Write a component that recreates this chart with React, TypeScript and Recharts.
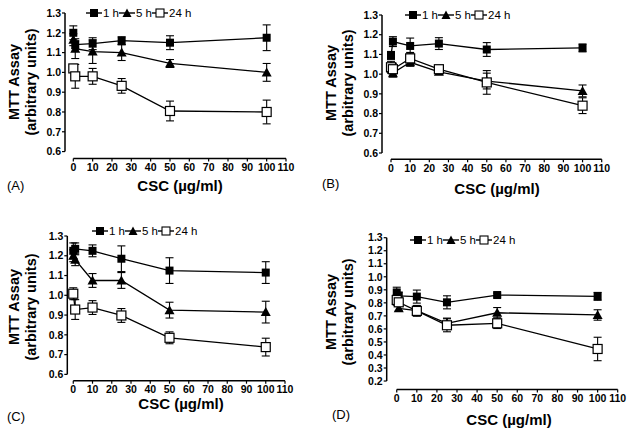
import { LineChart, Line, XAxis, YAxis, ErrorBar, ReferenceLine } from 'recharts';

const doses = [0, 1, 10, 25, 50, 100];
const xTicks = [0, 10, 20, 30, 40, 50, 60, 70, 80, 90, 100, 110];
const yTicksHigh = [0.6, 0.7, 0.8, 0.9, 1.0, 1.1, 1.2, 1.3];
const yTicksWide = [0.2, 0.3, 0.4, 0.5, 0.6, 0.7, 0.8, 0.9, 1.0, 1.1, 1.2, 1.3];
const seriesNames = ['1 h', '5 h', '24 h'];

// panel A
const aOneHour = [1.2, 1.14, 1.145, 1.16, 1.15, 1.175];
const aOneHourErr = [0.035, 0.02, 0.03, 0.02, 0.035, 0.065];
const aFiveHour = [1.165, 1.12, 1.105, 1.1, 1.045, 1.0];
const aFiveHourErr = [0.03, 0.05, 0.06, 0.04, 0.02, 0.045];
const aDay = [1.02, 0.98, 0.98, 0.932, 0.805, 0.8];
const aDayErr = [0.02, 0.06, 0.04, 0.037, 0.05, 0.06];

// panel B
const bOneHour = [1.095, 1.165, 1.143, 1.155, 1.125, 1.133];
const bOneHourErr = [0.02, 0.025, 0.04, 0.03, 0.035, 0.02];
const bFiveHour = [1.03, 1.005, 1.06, 1.012, 0.965, 0.915];
const bFiveHourErr = [0.02, 0.02, 0.02, 0.01, 0.04, 0.03];
const bDay = [1.035, 1.025, 1.08, 1.025, 0.958, 0.84];
const bDayErr = [0.03, 0.03, 0.03, 0.01, 0.06, 0.04];

// panel C
const cOneHour = [1.225, 1.235, 1.225, 1.185, 1.125, 1.115];
const cOneHourErr = [0.04, 0.03, 0.03, 0.065, 0.065, 0.055];
const cFiveHour = [1.2, 1.18, 1.075, 1.075, 0.925, 0.915];
const cFiveHourErr = [0.03, 0.03, 0.035, 0.04, 0.04, 0.055];
const cDay = [1.008, 0.928, 0.938, 0.898, 0.785, 0.738];
const cDayErr = [0.03, 0.05, 0.035, 0.035, 0.03, 0.045];

// panel D
const dOneHour = [0.88, 0.853, 0.848, 0.804, 0.86, 0.85];
const dOneHourErr = [0.04, 0.03, 0.05, 0.05, 0.015, 0.03];
const dFiveHour = [0.82, 0.758, 0.74, 0.643, 0.724, 0.707];
const dFiveHourErr = [0.02, 0.02, 0.04, 0.04, 0.04, 0.04];
const dDay = [0.822, 0.804, 0.738, 0.628, 0.643, 0.446];
const dDayErr = [0.04, 0.03, 0.04, 0.05, 0.04, 0.09];

const FONT = '"Liberation Sans", Arial, sans-serif';
const W = 635;
const H = 435;

function buildRows(h1: number[], h1e: number[], h5: number[], h5e: number[], h24: number[], h24e: number[]) {
  return doses.map((dose, i) => ({
    dose,
    h1: h1[i],
    h1e: h1e[i],
    h5: h5[i],
    h5e: h5e[i],
    h24: h24[i],
    h24e: h24e[i],
  }));
}

const FilledSquare = (props: any) => {
  const { cx, cy, index } = props;
  if (cx == null || cy == null) return null;
  return <rect key={`fs-${index}`} x={cx - 4} y={cy - 4} width={8} height={8} fill="#000" />;
};

const Triangle = (props: any) => {
  const { cx, cy, index } = props;
  if (cx == null || cy == null) return null;
  return (
    <polygon
      key={`tr-${index}`}
      points={`${cx},${cy - 5} ${cx - 5},${cy + 4} ${cx + 5},${cy + 4}`}
      fill="#000"
    />
  );
};

const OpenSquare = (props: any) => {
  const { cx, cy, index } = props;
  if (cx == null || cy == null) return null;
  return (
    <rect
      key={`os-${index}`}
      x={cx - 4.5}
      y={cy - 4.5}
      width={9}
      height={9}
      fill="#fff"
      stroke="#000"
      strokeWidth={1.2}
    />
  );
};

function LegendIcon({ kind }: { kind: number }) {
  return (
    <svg width={16} height={10} style={{ display: 'block' }}>
      <line x1={0} y1={5} x2={16} y2={5} stroke="#000" strokeWidth={1.4} />
      {kind === 0 && <rect x={4} y={1} width={8} height={8} fill="#000" />}
      {kind === 1 && <polygon points="8,0.5 3.5,9 12.5,9" fill="#000" />}
      {kind === 2 && (
        <rect x={4} y={1} width={8} height={8} fill="#fff" stroke="#000" strokeWidth={1.1} />
      )}
    </svg>
  );
}

interface PanelProps {
  letter: string;
  rows: ReturnType<typeof buildRows>;
  plotLeft: number;
  plotTop: number;
  plotRight: number;
  plotBottom: number;
  xMin: number;
  yMin: number;
  yTicks: number[];
  legendX: number;
  legendY: number;
  titleX: number;
  titleY: number;
  xTitle: [number, number];
  tag: [number, number];
}

function Panel(p: PanelProps) {
  const tickStyle = { fontSize: 10.5, fontWeight: 700, fill: '#000', fontFamily: FONT };
  return (
    <>
      <div style={{ position: 'absolute', left: 0, top: 0 }}>
        <LineChart
          width={W}
          height={H}
          data={p.rows}
          margin={{
            top: p.plotTop,
            left: p.plotLeft - 40,
            right: W - p.plotRight,
            bottom: H - p.plotBottom - 20,
          }}
        >
          <XAxis
            type="number"
            dataKey="dose"
            domain={[p.xMin, 110]}
            ticks={xTicks}
            interval={0}
            allowDataOverflow
            axisLine={false}
            tickLine={{ stroke: '#000', strokeWidth: 1.2 }}
            tickSize={3}
            tickMargin={2}
            height={20}
            tick={tickStyle}
          />
          <YAxis
            type="number"
            domain={[p.yMin, 1.3]}
            ticks={p.yTicks}
            interval={0}
            allowDataOverflow
            axisLine={false}
            tickLine={{ stroke: '#000', strokeWidth: 1.2 }}
            tickSize={3}
            tickMargin={1}
            width={40}
            tick={tickStyle}
            tickFormatter={(v: number) => v.toFixed(1)}
          />
          <ReferenceLine
            segment={[
              { x: p.xMin, y: p.yTicks[0] },
              { x: p.xMin, y: 1.3 },
            ]}
            stroke="#000"
            strokeWidth={1.5}
            ifOverflow="visible"
          />
          <ReferenceLine
            segment={[
              { x: 0, y: p.yMin },
              { x: 110, y: p.yMin },
            ]}
            stroke="#000"
            strokeWidth={1.5}
            ifOverflow="visible"
          />
          <Line
            dataKey="h1"
            stroke="#000"
            strokeWidth={1.3}
            dot={FilledSquare}
            isAnimationActive={false}
          >
            <ErrorBar dataKey="h1e" width={4} stroke="#000" strokeWidth={1.1} />
          </Line>
          <Line
            dataKey="h5"
            stroke="#000"
            strokeWidth={1.3}
            dot={Triangle}
            isAnimationActive={false}
          >
            <ErrorBar dataKey="h5e" width={4} stroke="#000" strokeWidth={1.1} />
          </Line>
          <Line
            dataKey="h24"
            stroke="#000"
            strokeWidth={1.3}
            dot={OpenSquare}
            isAnimationActive={false}
          >
            <ErrorBar dataKey="h24e" width={4} stroke="#000" strokeWidth={1.1} />
          </Line>
        </LineChart>
      </div>

      <div
        style={{
          position: 'absolute',
          left: p.legendX,
          top: p.legendY - 7,
          display: 'flex',
          alignItems: 'center',
          fontFamily: FONT,
          fontSize: 11.5,
          lineHeight: '14px',
          color: '#000',
          whiteSpace: 'nowrap',
        }}
      >
        {seriesNames.map((name, i) => (
          <div key={name} style={{ display: 'flex', alignItems: 'center' }}>
            <LegendIcon kind={i} />
            <span style={{ marginLeft: 1 }}>{name}</span>
          </div>
        ))}
      </div>

      <div
        style={{
          position: 'absolute',
          left: p.titleX,
          top: p.titleY,
          transform: 'translate(-50%, -50%) rotate(-90deg)',
          fontFamily: FONT,
          fontWeight: 700,
          fontSize: 14.5,
          lineHeight: '17px',
          textAlign: 'center',
          whiteSpace: 'nowrap',
          color: '#000',
        }}
      >
        <div>MTT Assay</div>
        <div>(arbitrary units)</div>
      </div>

      <div
        style={{
          position: 'absolute',
          left: p.xTitle[0],
          top: p.xTitle[1],
          transform: 'translate(-50%, -50%)',
          fontFamily: FONT,
          fontWeight: 700,
          fontSize: 15,
          whiteSpace: 'nowrap',
          color: '#000',
        }}
      >
        CSC (µg/ml)
      </div>

      <div
        style={{
          position: 'absolute',
          left: p.tag[0],
          top: p.tag[1],
          transform: 'translateY(-50%)',
          fontFamily: FONT,
          fontSize: 13,
          color: '#000',
        }}
      >
        ({p.letter})
      </div>
    </>
  );
}

export default function App() {
  return (
    <div
      style={{
        position: 'absolute',
        left: 0,
        top: 0,
        width: W,
        height: H,
        background: '#fff',
        overflow: 'hidden',
      }}
    >
      <Panel
        letter="A"
        rows={buildRows(aOneHour, aOneHourErr, aFiveHour, aFiveHourErr, aDay, aDayErr)}
        plotLeft={65}
        plotTop={13}
        plotRight={286}
        plotBottom={158.5}
        xMin={-4.3}
        yMin={0.565}
        yTicks={yTicksHigh}
        legendX={86}
        legendY={13}
        titleX={23}
        titleY={82}
        xTitle={[180, 185]}
        tag={[7, 185]}
      />
      <Panel
        letter="B"
        rows={buildRows(bOneHour, bOneHourErr, bFiveHour, bFiveHourErr, bDay, bDayErr)}
        plotLeft={382}
        plotTop={15}
        plotRight={601.7}
        plotBottom={159.3}
        xMin={-4.7}
        yMin={0.568}
        yTicks={yTicksHigh}
        legendX={405}
        legendY={15}
        titleX={340}
        titleY={83}
        xTitle={[497, 188]}
        tag={[322, 183]}
      />
      <Panel
        letter="C"
        rows={buildRows(cOneHour, cOneHourErr, cFiveHour, cFiveHourErr, cDay, cDayErr)}
        plotLeft={67.3}
        plotTop={236}
        plotRight={285}
        plotBottom={380.7}
        xMin={-3.1}
        yMin={0.568}
        yTicks={yTicksHigh}
        legendX={92}
        legendY={231}
        titleX={23}
        titleY={307}
        xTitle={[181, 403]}
        tag={[7, 416]}
      />
      <Panel
        letter="D"
        rows={buildRows(dOneHour, dOneHourErr, dFiveHour, dFiveHourErr, dDay, dDayErr)}
        plotLeft={386.7}
        plotTop={237.7}
        plotRight={617.7}
        plotBottom={389.5}
        xMin={-5}
        yMin={0.135}
        yTicks={yTicksWide}
        legendX={410}
        legendY={240}
        titleX={340}
        titleY={312}
        xTitle={[509, 419]}
        tag={[332, 414]}
      />
    </div>
  );
}
